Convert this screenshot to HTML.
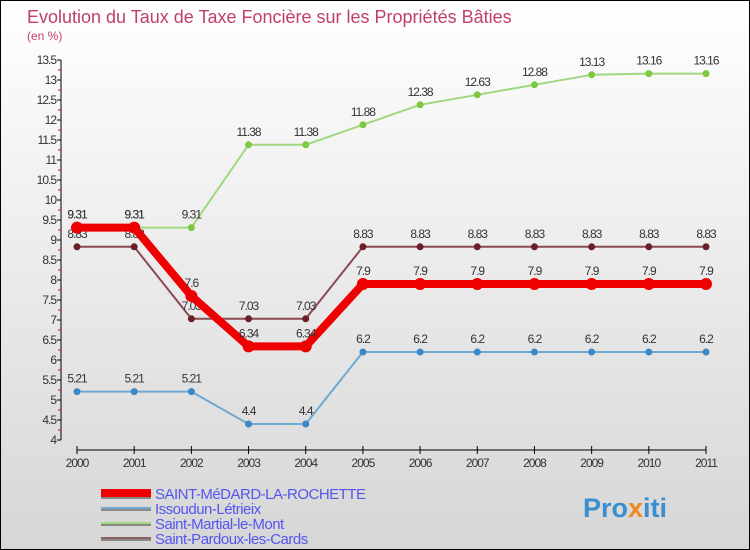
<!DOCTYPE html>
<html><head><meta charset="utf-8"><style>
body{margin:0}
#c{width:750px;height:550px;position:relative;box-sizing:border-box;border:1px solid #000;background:linear-gradient(#fff,#d6d6d6);font-family:"Liberation Sans",sans-serif;overflow:hidden}
</style></head><body>
<div id="c">
<svg id="s" width="748" height="548" style="position:absolute;left:0;top:0">
<text x="26" y="22" font-size="18" fill="#c0406a">Evolution du Taux de Taxe Foncière sur les Propriétés Bâties</text>
<text x="26" y="39" font-size="12" fill="#c0406a">(en %)</text>
<g id="axes"></g><g id="series"></g><g id="legend"></g>
<text x="582" y="516" font-size="27" font-weight="bold" fill="#3a8fd0">Pro<tspan fill="#f08a20">x</tspan>iti</text>
</svg>
</div>
<script>
const years=[2000,2001,2002,2003,2004,2005,2006,2007,2008,2009,2010,2011];
const yTicks=[4,4.5,5,5.5,6,6.5,7,7.5,8,8.5,9,9.5,10,10.5,11,11.5,12,12.5,13,13.5];
const saintMedard=[9.31,9.31,7.6,6.34,6.34,7.9,7.9,7.9,7.9,7.9,7.9,7.9];
const issoudun=[5.21,5.21,5.21,4.4,4.4,6.2,6.2,6.2,6.2,6.2,6.2,6.2];
const saintMartial=[9.31,9.31,9.31,11.38,11.38,11.88,12.38,12.63,12.88,13.13,13.16,13.16];
const saintPardoux=[8.83,8.83,7.03,7.03,7.03,8.83,8.83,8.83,8.83,8.83,8.83,8.83];
const seriesNames=["SAINT-MéDARD-LA-ROCHETTE","Issoudun-Létrieix","Saint-Martial-le-Mont","Saint-Pardoux-les-Cards"];
const NS="http://www.w3.org/2000/svg";
function X(i){return 76+i*(705-76)/11;}
function Y(v){return 439-(v-4)*40;}
function mk(t,a,p){const e=document.createElementNS(NS,t);for(const k in a)e.setAttribute(k,a[k]);p.appendChild(e);return e;}
const ax=document.getElementById('axes');
let l=mk('line',{x1:60,y1:Y(13.5),x2:60,y2:Y(4),stroke:'#000'},ax);


yTicks.forEach(v=>{
 mk('line',{x1:56,y1:Y(v),x2:60,y2:Y(v),stroke:'#000'},ax);
 if(v<13.5)mk('line',{x1:57,y1:Y(v+0.25),x2:60,y2:Y(v+0.25),stroke:'#e00'},ax);
 const t=mk('text',{x:55,y:Y(v)+4,'font-size':12,'text-anchor':'end',fill:'#333','letter-spacing':'-1'},ax);
 t.textContent=v;
 
 
});
l=mk('line',{x1:X(0),y1:449,x2:X(11),y2:449,stroke:'#000'},ax);


years.forEach((y,i)=>{
 mk('line',{x1:X(i),y1:445,x2:X(i),y2:453,stroke:'#000'},ax);
 const t=mk('text',{x:X(i),y:466,'font-size':12,'text-anchor':'middle',fill:'#333','letter-spacing':'-1'},ax);
 t.textContent=y;
 
 
});
const sg=document.getElementById('series');
function draw(vals,color,w,r,dot,name){
 const g=mk('g',{},sg);
 
 
 mk('polyline',{points:vals.map((v,i)=>X(i)+','+Y(v)).join(' '),fill:'none',stroke:color,'stroke-width':w,'stroke-linejoin':'round'},g);
 vals.forEach((v,i)=>{
  const c=mk('circle',{cx:X(i),cy:Y(v),r:r,fill:dot},g);
  
  
  const t=mk('text',{x:X(i),y:Y(v)-9,'font-size':12,'text-anchor':'middle',fill:'#333','letter-spacing':'-1'},g);
  t.textContent=v;
  
  
 });
}
draw(saintPardoux,'#8a4a52',2,3.5,'#6a1e28','series-saint-pardoux');
draw(saintMartial,'#a0d880',2,3.5,'#7cc840','series-saint-martial');
draw(issoudun,'#70a8d0',2,3.5,'#3a88c8','series-issoudun');
draw(saintMedard,'#ee0000',8,6,'#ee0000','series-saint-medard');
const lg=document.getElementById('legend');
const lc=['#ee0000','#70a8d0','#a0d880','#8a6060'],lw=[8,2,2,2];
seriesNames.forEach((n,i)=>{
 const y=492+i*15;
 const g=mk('g',{},lg);
 
 
 mk('line',{x1:100,y1:y+2,x2:150,y2:y+2,stroke:'#888','stroke-width':lw[i]},g);
 mk('line',{x1:100,y1:y,x2:150,y2:y,stroke:lc[i],'stroke-width':lw[i]},g);
 const t=mk('text',{x:154,y:y+6,'font-size':15,fill:'#5555ee','letter-spacing':'-0.5'},g);
 t.textContent=n;
});
</script>
</body></html>
